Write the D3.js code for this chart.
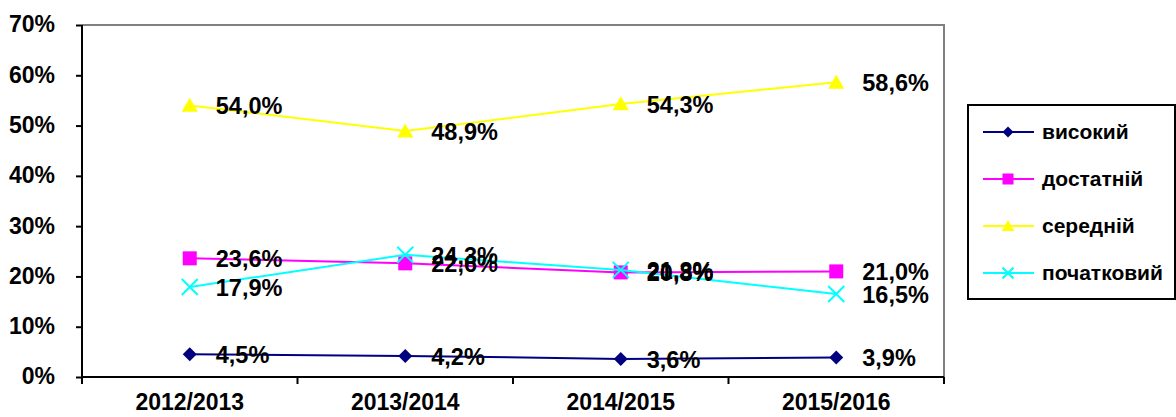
<!DOCTYPE html>
<html><head><meta charset="utf-8">
<script src="https://cdn.jsdelivr.net/npm/d3@7"></script>
<style>
html,body{margin:0;padding:0;background:#fff;}
svg{display:block;font-family:"Liberation Sans",Arial,sans-serif;font-weight:bold;}
</style></head>
<body><svg id="c" width="1176" height="417"></svg>
<script>
const categories = ["2012/2013","2013/2014","2014/2015","2015/2016"];
const seriesNames = ["високий","достатній","середній","початковий"];
const visokyi = [4.5, 4.2, 3.6, 3.9];
const dostatnii = [23.6, 22.6, 20.8, 21.0];
const serednii = [54.0, 48.9, 54.3, 58.6];
const pochatkovyi = [17.9, 24.3, 21.3, 16.5];
const yTicks = [0,10,20,30,40,50,60,70];

const seriesValues = [visokyi, dostatnii, serednii, pochatkovyi];
const colors = ["#000080","#FF00FF","#FFFF00","#00FFFF"];
const markers = ["diamond","square","triangle","x"];

const svg = d3.select("#c");
const L = 82, R = 944, T = 25, B = 377;
const x = d3.scaleBand().domain(categories).range([L, R]);
const y = d3.scaleLinear().domain([0,70]).range([B, T]);
const fmt = v => v.toFixed(1).replace(".", ",") + "%";

// plot border (gray top/right)
svg.append("path").attr("d", `M${L},${T}H${R}V${B}`).attr("fill","none").attr("stroke","#808080").attr("stroke-width",2);

// y axis
const yAxis = svg.append("g").attr("transform",`translate(${L},0)`)
  .call(d3.axisLeft(y).tickValues(yTicks).tickSize(6).tickPadding(21).tickFormat(d => d + "%"));
yAxis.select(".domain").attr("stroke","#000").attr("stroke-width",2).attr("d",`M0,${T}V${B}`);
yAxis.selectAll(".tick line").attr("stroke","#000").attr("stroke-width",2);
yAxis.selectAll(".tick text").attr("font-size",23).attr("font-weight","bold").attr("fill","#000")
  .attr("font-family","Liberation Sans, Arial, sans-serif").attr("dy","0.3em");

// x axis
const xAxis = svg.append("g").attr("transform",`translate(0,${B})`)
  .call(d3.axisBottom(x).tickSize(0).tickPadding(0));
xAxis.select(".domain").attr("stroke","#000").attr("stroke-width",2).attr("d",`M${L},0H${R}`);
xAxis.selectAll(".tick text").attr("font-size",23).attr("font-weight","bold").attr("fill","#000")
  .attr("font-family","Liberation Sans, Arial, sans-serif").attr("y",33).attr("dy",null);
const bounds = categories.map(c => x(c)).concat([R]);
xAxis.selectAll(".bt").data(bounds).enter().append("line")
  .attr("x1", d => d).attr("x2", d => d).attr("y1", 0).attr("y2", 7)
  .attr("stroke","#000").attr("stroke-width",2);

function markerPath(type, size){
  const s = size;
  if (type === "diamond") return `M0,${-s}L${s},0L0,${s}L${-s},0Z`;
  if (type === "square") return `M${-s},${-s}H${s}V${s}H${-s}Z`;
  if (type === "triangle") return `M0,${-s*1.1}L${s*1.15},${s*0.9}L${-s*1.15},${s*0.9}Z`;
  return `M${-s},${-s}L${s},${s}M${s},${-s}L${-s},${s}`;
}
const msize = [7,7,7,8];

const cx = c => x(c) + x.bandwidth()/2;
seriesValues.forEach((vals, i) => {
  const data = categories.map((c, j) => ({c, v: vals[j]}));
  const line = d3.line().x(d => cx(d.c)).y(d => y(d.v));
  const g = svg.append("g");
  g.append("path").datum(data).attr("d", line).attr("fill","none").attr("stroke",colors[i]).attr("stroke-width",2);
  g.selectAll(".m").data(data).enter().append("path")
    .attr("transform", d => `translate(${cx(d.c)},${y(d.v)})`)
    .attr("d", markerPath(markers[i], msize[i]))
    .attr("fill", markers[i] === "x" ? "none" : colors[i])
    .attr("stroke", markers[i] === "x" ? colors[i] : "none")
    .attr("stroke-width", 2);
});
// data labels
seriesValues.forEach((vals, i) => {
  svg.append("g").selectAll("text").data(categories.map((c,j)=>({c,v:vals[j]}))).enter().append("text")
    .attr("x", d => cx(d.c) + 26).attr("y", d => y(d.v) + 9)
    .attr("font-size",23.5).attr("fill","#000").text(d => fmt(d.v));
});

// legend
const lg = svg.append("g");
lg.append("rect").attr("x",968).attr("y",105).attr("width",207).attr("height",194)
  .attr("fill","#fff").attr("stroke","#000").attr("stroke-width",2);
const ly = d3.scalePoint().domain(seriesNames).range([132, 273]);
seriesNames.forEach((n, i) => {
  const yy = ly(n);
  lg.append("line").attr("x1",983).attr("x2",1034).attr("y1",yy).attr("y2",yy).attr("stroke",colors[i]).attr("stroke-width",2);
  lg.append("path").attr("transform",`translate(1008,${yy})`).attr("d", markerPath(markers[i], 5.5))
    .attr("fill", markers[i] === "x" ? "none" : colors[i])
    .attr("stroke", markers[i] === "x" ? colors[i] : "none").attr("stroke-width",2);
  lg.append("text").attr("x",1042).attr("y",yy+7).attr("font-size",21).attr("fill","#000").text(n);
});
</script></body></html>
